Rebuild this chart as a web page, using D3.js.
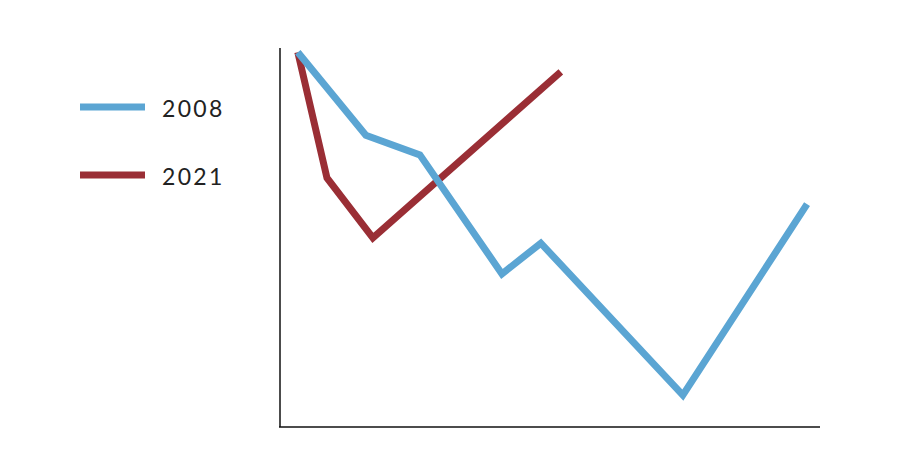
<!DOCTYPE html>
<html><head><meta charset="utf-8">
<script src="https://cdn.jsdelivr.net/npm/d3@7"></script>
<style>body{margin:0;background:#fff}svg{display:block}</style>
</head><body>
<svg id="c" width="900" height="476"></svg>
<script>
const seriesNames = ["2008", "2021"];
const colors = ["#5ba5d3", "#9a2e35"];
const x2008 = [3.3, 15.9, 25.9, 41.1, 48.3, 74.6, 97.6];
const y2008 = [98.9, 77.0, 71.8, 40.4, 48.5, 8.4, 58.8];
const x2021 = [3.3, 8.7, 17.2, 52.0];
const y2021 = [98.9, 65.7, 49.9, 93.7];

const svg = d3.select("#c");
const x = d3.scaleLinear().domain([0, 100]).range([280, 820]);
const y = d3.scaleLinear().domain([0, 100]).range([427, 48]);

svg.append("line").attr("x1", 280).attr("x2", 280).attr("y1", 48).attr("y2", 427)
  .attr("stroke", "#111").attr("stroke-width", 1.5);
svg.append("line").attr("x1", 279).attr("x2", 820).attr("y1", 427).attr("y2", 427)
  .attr("stroke", "#111").attr("stroke-width", 1.5);

const data = [
  x2008.map((v, i) => [v, y2008[i]]),
  x2021.map((v, i) => [v, y2021[i]])
];
const line = d3.line().x(d => x(d[0])).y(d => y(d[1]));
[1, 0].forEach(i => {
  svg.append("path").attr("d", line(data[i])).attr("fill", "none")
    .attr("stroke", colors[i]).attr("stroke-width", 7)
    .attr("stroke-linejoin", "miter").attr("stroke-miterlimit", 4);
});

const leg = svg.append("g");
seriesNames.forEach((n, i) => {
  const yy = 107 + i * 68;
  leg.append("line").attr("x1", 80).attr("x2", 145).attr("y1", yy).attr("y2", yy)
    .attr("stroke", colors[i]).attr("stroke-width", 7);
  leg.append("text").attr("x", 162).attr("y", yy + 2).attr("dy", "0.35em")
    .attr("font-family", "Lato, sans-serif").attr("font-size", 23)
    .attr("letter-spacing", 2.3)
    .attr("fill", "#222").text(n);
});
</script>
</body></html>
